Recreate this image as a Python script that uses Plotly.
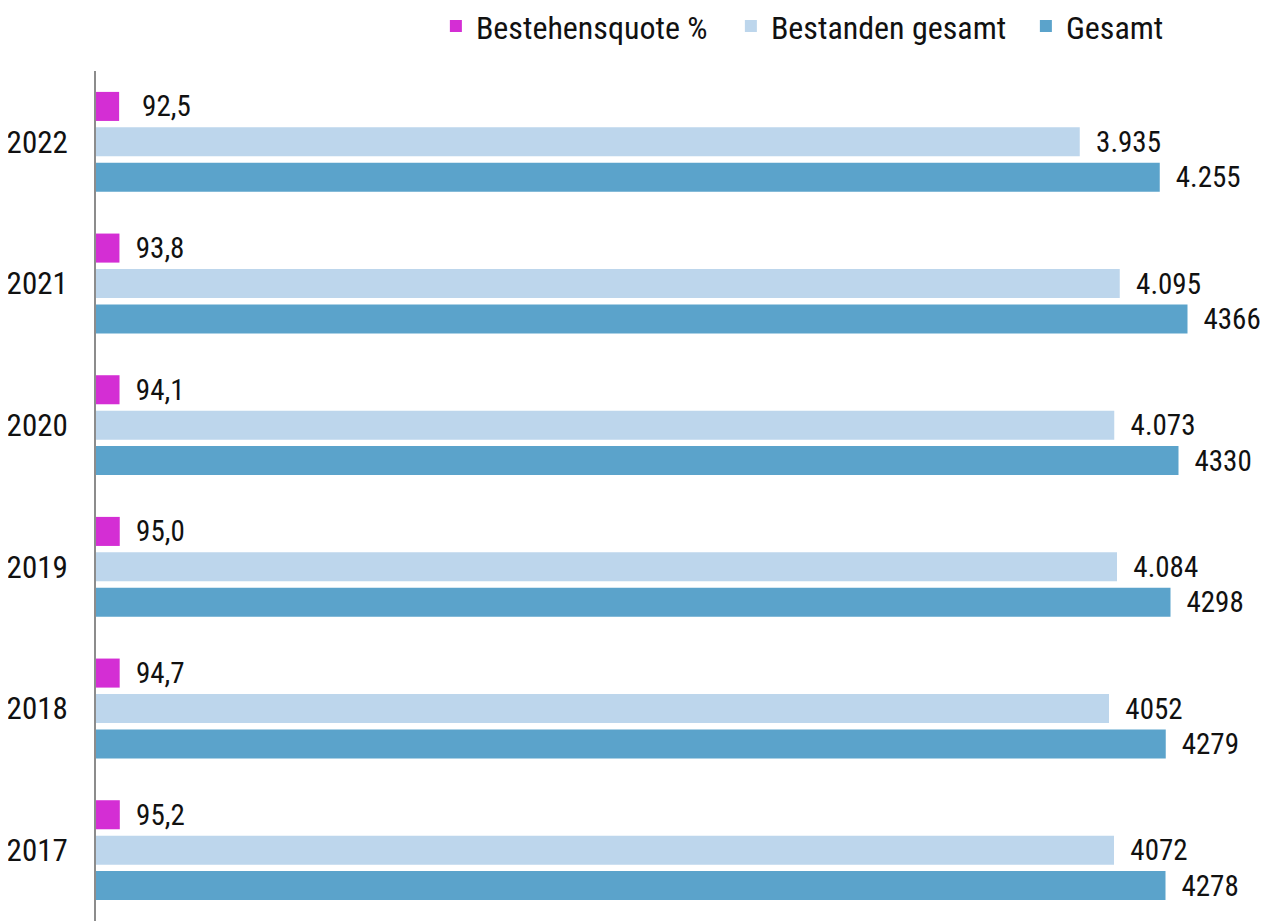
import plotly.graph_objects as go

years = ["2022", "2021", "2020", "2019", "2018", "2017"]
quote = [92.5, 93.8, 94.1, 95.0, 94.7, 95.2]
quote_lbl = [" 92,5", "93,8", "94,1", "95,0", "94,7", "95,2"]
bestanden = [3935, 4095, 4073, 4084, 4052, 4072]
bestanden_lbl = ["3.935", "4.095", "4.073", "4.084", "4052", "4072"]
gesamt = [4255, 4366, 4330, 4298, 4279, 4278]
gesamt_lbl = ["4.255", "4366", "4330", "4298", "4279", "4278"]

FONT = "Roboto Condensed, Liberation Sans Narrow, Arial Narrow, sans-serif"
FS = 31
C_Q = "#D42ED4"
C_B = "#BDD6EC"
C_G = "#5BA3CB"

fig = go.Figure()
for name, vals, lbls, col, tpl in [("Bestehensquote %", quote, quote_lbl, C_Q, "  %{text}"),
                                   ("Bestanden gesamt", bestanden, bestanden_lbl, C_B, "  %{text}"),
                                   ("Gesamt", gesamt, gesamt_lbl, C_G, "\u2002%{text}")]:
    fig.add_trace(go.Bar(y=years, x=vals, orientation="h", name=name,
                         marker_color=col, text=lbls, texttemplate=tpl,
                         textposition="outside", cliponaxis=False))

fig.update_traces(textfont=dict(family=FONT, size=29, color="#111111"),
                  constraintext="none", marker_line_width=0)

fig.update_layout(
    width=1260, height=913,
    margin=dict(l=88, r=0, t=63, b=0, autoexpand=False),
    paper_bgcolor="white", plot_bgcolor="white",
    barmode="group", bargap=0.25, bargroupgap=0.18,
    font=dict(family=FONT, size=FS, color="#111111"),
    showlegend=True,
    legend=dict(orientation="h", x=0.290, y=1.085, xanchor="left", yanchor="top",
                yref="paper", font=dict(family=FONT, size=32, color="#111111"),
                entrywidth=250, traceorder="normal"),
)
fig.update_xaxes(range=[0, 4688], showticklabels=False, showgrid=False,
                 zeroline=False, showline=False, automargin=False)
fig.update_yaxes(autorange="reversed", showgrid=False, zeroline=False,
                 showline=True, linecolor="#8c8c8c", linewidth=2,
                 ticks="", ticklabelstandoff=20, automargin=False,
                 tickfont=dict(family=FONT, size=FS, color="#111111"))

fig.write_html("out.html")
